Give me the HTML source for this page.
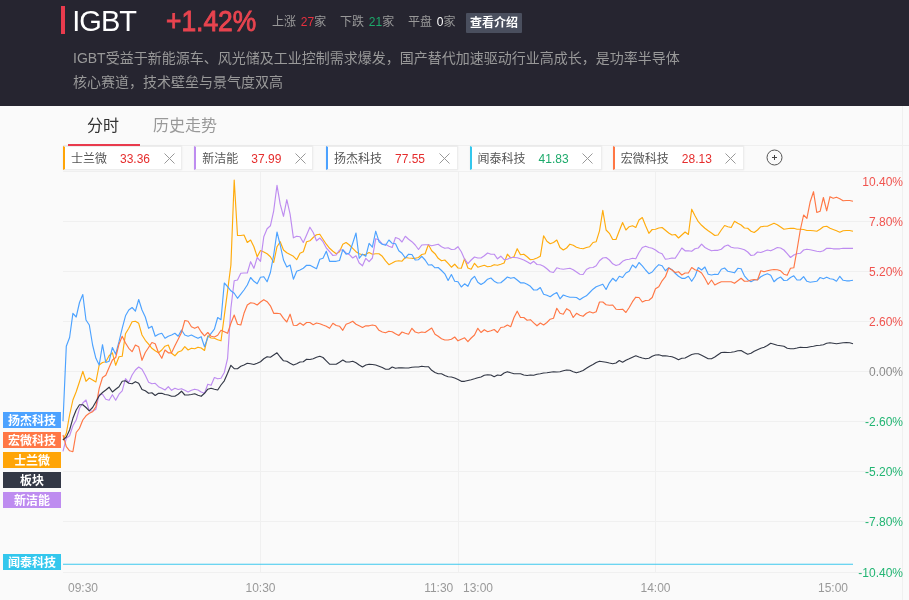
<!DOCTYPE html>
<html lang="zh-CN">
<head>
<meta charset="utf-8">
<title>IGBT</title>
<style>
*{box-sizing:border-box;margin:0;padding:0}
html,body{width:909px;height:600px;overflow:hidden;background:#fafafa;font-family:"Liberation Sans","Noto Sans CJK SC",sans-serif;}
#hd{position:absolute;left:0;top:0;width:909px;height:106px;background:#262530;}
#bar{position:absolute;left:61px;top:6px;width:4px;height:28px;background:#e93b4d;}
#ttl{position:absolute;left:72.3px;top:4px;font-size:29px;line-height:34px;color:#fff;letter-spacing:-1px}
#pct{position:absolute;left:165.5px;top:4px;font-size:29px;line-height:34px;color:#e8444f;-webkit-text-stroke:0.9px #e8444f;transform-origin:0 50%;transform:scaleX(.91)}
.st{position:absolute;top:14px;word-spacing:1.5px;font-size:12px;line-height:16px;color:#999;white-space:nowrap}
.st b{font-weight:normal}
#btn{position:absolute;left:466px;top:13px;width:56px;height:20px;background:#4a4f5e;color:#fff;font-size:12px;font-weight:bold;line-height:21px;text-align:center;border-radius:1px}
.ds{position:absolute;left:73px;font-size:14px;line-height:20px;color:#999;white-space:nowrap}
.tab{position:absolute;top:115px;font-size:16px;line-height:22px;white-space:nowrap}
#ul{position:absolute;z-index:3;left:68px;top:144px;width:72px;height:2px;background:#e93b4d}
.lg{position:absolute;top:146px;height:24px;background:#fff;border:1px solid #ededed;border-left:2px solid;font-size:12px;line-height:24.5px;color:#555;white-space:nowrap;box-shadow:0 0 2px rgba(0,0,0,.07)}
.lg span{position:absolute;top:0}
.lg svg{position:absolute;top:6px}
.yl{position:absolute;right:6px;font-size:12px;line-height:14px;text-align:right}
.xl{position:absolute;top:581px;font-size:12px;line-height:14px;color:#999}
.tg{position:absolute;left:3px;width:58px;height:16px;color:#fff;font-size:12px;font-weight:bold;line-height:18.6px;text-align:center;overflow:hidden}
#ch{position:absolute;left:0;top:0}
</style>
</head>
<body>
<div id="hd">
<div id="bar"></div>
<div id="ttl">IGBT</div>
<div id="pct">+1.42%</div>
<div class="st" style="left:272px">上涨 <b style="color:#e8303f">27</b>家</div>
<div class="st" style="left:340px">下跌 <b style="color:#1daa6b">21</b>家</div>
<div class="st" style="left:408px">平盘 <b style="color:#fff">0</b>家</div>
<div id="btn">查看介绍</div>
<div class="ds" style="top:48px">IGBT受益于新能源车、风光储及工业控制需求爆发，国产替代加速驱动行业高成长，是功率半导体</div>
<div class="ds" style="top:72px">核心赛道，技术壁垒与景气度双高</div>
</div>
<div class="tab" style="left:87px;color:#333">分时</div>
<div class="tab" style="left:153px;color:#999">历史走势</div>
<div id="ul"></div>
<svg id="ch" width="909" height="600" viewBox="0 0 909 600">
<g stroke="#f0f0f0" stroke-width="1" shape-rendering="crispEdges"><line x1="63" y1="171.5" x2="903" y2="171.5"/><line x1="63" y1="221.5" x2="903" y2="221.5"/><line x1="63" y1="271.5" x2="903" y2="271.5"/><line x1="63" y1="321.5" x2="903" y2="321.5"/><line x1="63" y1="371.5" x2="903" y2="371.5"/><line x1="63" y1="421.5" x2="903" y2="421.5"/><line x1="63" y1="471.5" x2="903" y2="471.5"/><line x1="63" y1="521.5" x2="903" y2="521.5"/><line x1="63" y1="572.5" x2="903" y2="572.5"/><line x1="260.5" y1="172" x2="260.5" y2="572"/><line x1="458.5" y1="172" x2="458.5" y2="572"/><line x1="655.5" y1="172" x2="655.5" y2="572"/></g>
<line x1="63" y1="145.5" x2="909" y2="145.5" stroke="#efefef" stroke-width="1" shape-rendering="crispEdges"/>
<line x1="902.5" y1="106" x2="902.5" y2="600" stroke="#f0f0f0" stroke-width="1" shape-rendering="crispEdges"/>
<polyline fill="none" stroke="#ffab0c" stroke-width="1.15" stroke-linejoin="round" points="63.0,440.0 66.3,433.3 69.6,415.0 72.9,400.0 76.2,391.7 79.5,381.7 82.8,371.3 86.0,381.3 89.3,378.0 92.6,380.0 95.9,382.0 99.2,365.0 102.5,362.5 105.8,361.7 109.1,355.8 112.4,352.8 115.7,365.3 119.0,356.7 122.2,356.3 125.5,333.7 128.8,328.3 132.1,321.7 135.4,321.3 138.7,323.3 142.0,335.0 145.3,340.3 148.6,344.2 151.9,348.3 155.2,350.8 158.5,352.8 161.8,350.0 165.0,346.2 168.3,345.0 171.6,353.3 174.9,355.8 178.2,352.0 181.5,350.8 184.8,346.7 188.1,350.0 191.4,348.3 194.7,348.7 198.0,347.2 201.2,348.0 204.5,350.5 207.8,335.8 211.1,338.0 214.4,338.3 217.7,339.7 221.0,340.8 224.3,315.8 227.6,290.8 230.9,265.0 234.2,180.0 237.5,235.5 240.8,235.5 244.0,235.0 247.3,242.5 250.6,240.0 253.9,246.7 257.2,256.7 260.5,250.5 263.8,252.0 267.1,253.8 270.4,256.7 273.7,262.5 277.0,246.7 280.2,241.7 283.5,250.0 286.8,252.8 290.1,254.5 293.4,256.3 296.7,259.7 300.0,253.3 303.3,251.7 306.6,241.7 309.9,240.8 313.2,237.5 316.5,234.7 319.8,234.2 323.0,239.2 326.3,244.2 329.6,248.3 332.9,251.2 336.2,253.8 339.5,251.7 342.8,244.2 346.1,242.5 349.4,245.0 352.7,248.3 356.0,251.7 359.2,253.7 362.5,254.7 365.8,254.2 369.1,252.5 372.4,254.2 375.7,253.7 379.0,253.7 382.3,256.3 385.6,260.8 388.9,264.7 392.2,263.0 395.5,261.2 398.8,260.8 402.0,261.2 405.3,257.5 408.6,258.0 411.9,258.3 415.2,258.3 418.5,257.5 421.8,254.5 425.1,253.7 428.4,244.5 431.7,250.8 435.0,253.7 438.2,258.3 441.5,260.8 444.8,260.0 448.1,263.3 451.4,267.2 454.7,264.2 458.0,268.0 461.3,268.3 464.6,258.7 467.9,268.0 471.2,269.2 474.5,263.3 477.8,267.2 481.0,266.3 484.3,265.3 487.6,266.7 490.9,266.3 494.2,264.7 497.5,265.3 500.8,264.2 504.1,263.0 507.4,254.2 510.7,258.0 514.0,256.7 517.2,248.7 520.5,254.7 523.8,254.2 527.1,256.7 530.4,259.7 533.7,259.2 537.0,258.0 540.3,256.3 543.6,235.8 546.9,241.3 550.2,243.7 553.5,242.5 556.8,240.0 560.0,247.5 563.3,250.0 566.6,248.0 569.9,244.2 573.2,245.3 576.5,247.2 579.8,248.3 583.1,248.7 586.4,247.5 589.7,246.7 593.0,242.5 596.2,241.7 599.5,230.8 602.8,210.3 606.1,230.0 609.4,233.3 612.7,239.5 616.0,239.5 619.3,230.8 622.6,222.5 625.9,230.0 629.2,226.7 632.5,225.8 635.8,227.5 639.0,220.0 642.3,217.5 645.6,225.8 648.9,233.3 652.2,229.5 655.5,229.2 658.8,228.0 662.1,227.5 665.4,230.3 668.7,233.0 672.0,235.0 675.2,234.5 678.5,238.0 681.8,235.0 685.1,232.0 688.4,234.5 691.7,209.2 695.0,215.8 698.3,221.7 701.6,225.3 704.9,228.3 708.2,230.8 711.5,233.0 714.8,235.5 718.0,235.0 721.3,230.0 724.6,225.5 727.9,226.7 731.2,227.5 734.5,221.3 737.8,223.3 741.1,225.0 744.4,228.0 747.7,228.3 751.0,231.3 754.2,232.5 757.5,230.0 760.8,226.7 764.1,226.3 767.4,226.2 770.7,224.7 774.0,223.3 777.3,224.7 780.6,227.0 783.9,229.2 787.2,228.7 790.5,228.3 793.8,228.3 797.0,229.2 800.3,229.2 803.6,229.5 806.9,230.5 810.2,230.5 813.5,230.8 816.8,231.2 820.1,229.2 823.4,226.7 826.7,226.3 830.0,228.3 833.2,229.5 836.5,230.8 839.8,232.2 843.1,230.8 846.4,230.5 849.7,230.5 853.0,231.2"/>
<polyline fill="none" stroke="#be8cf0" stroke-width="1.15" stroke-linejoin="round" points="63.0,451.3 66.3,438.3 69.6,435.8 72.9,425.8 76.2,420.0 79.5,408.3 82.8,403.0 86.0,400.0 89.3,410.8 92.6,411.3 95.9,409.2 99.2,394.2 102.5,394.2 105.8,399.2 109.1,400.3 112.4,394.7 115.7,400.3 119.0,394.2 122.2,390.8 125.5,378.7 128.8,382.5 132.1,375.0 135.4,370.0 138.7,367.0 142.0,369.2 145.3,375.3 148.6,382.2 151.9,383.7 155.2,383.3 158.5,386.7 161.8,388.3 165.0,390.0 168.3,386.7 171.6,390.3 174.9,388.3 178.2,389.5 181.5,388.7 184.8,390.3 188.1,392.0 191.4,390.3 194.7,389.2 198.0,390.0 201.2,392.0 204.5,393.3 207.8,384.2 211.1,385.3 214.4,377.5 217.7,378.8 221.0,378.3 224.3,372.5 227.6,358.3 230.9,308.3 234.2,280.8 237.5,280.0 240.8,273.3 244.0,273.0 247.3,273.0 250.6,261.7 253.9,268.3 257.2,257.5 260.5,261.3 263.8,236.7 267.1,228.7 270.4,225.8 273.7,210.8 277.0,185.3 280.2,204.2 283.5,216.3 286.8,199.7 290.1,214.2 293.4,237.8 296.7,236.2 300.0,236.7 303.3,242.5 306.6,235.0 309.9,227.2 313.2,232.5 316.5,240.8 319.8,238.0 323.0,241.7 326.3,248.0 329.6,251.7 332.9,255.5 336.2,255.0 339.5,250.0 342.8,250.0 346.1,253.0 349.4,254.7 352.7,258.0 356.0,255.8 359.2,263.0 362.5,265.8 365.8,258.3 369.1,261.7 372.4,258.0 375.7,238.7 379.0,240.0 382.3,244.2 385.6,244.2 388.9,246.2 392.2,247.5 395.5,237.5 398.8,238.7 402.0,242.0 405.3,236.3 408.6,239.2 411.9,241.7 415.2,245.0 418.5,249.5 421.8,245.0 425.1,244.7 428.4,244.7 431.7,245.8 435.0,245.0 438.2,244.2 441.5,246.7 444.8,248.3 448.1,247.8 451.4,249.5 454.7,249.2 458.0,246.7 461.3,251.7 464.6,259.2 467.9,263.7 471.2,260.0 474.5,257.0 477.8,258.0 481.0,258.0 484.3,255.8 487.6,253.0 490.9,254.2 494.2,254.2 497.5,258.8 500.8,256.2 504.1,259.7 507.4,259.2 510.7,257.5 514.0,257.5 517.2,257.8 520.5,258.8 523.8,260.0 527.1,261.7 530.4,263.8 533.7,261.3 537.0,264.5 540.3,264.7 543.6,266.2 546.9,268.8 550.2,271.7 553.5,272.5 556.8,267.8 560.0,268.8 563.3,269.2 566.6,268.7 569.9,268.3 573.2,269.7 576.5,272.0 579.8,274.2 583.1,274.5 586.4,269.5 589.7,267.8 593.0,267.5 596.2,265.8 599.5,260.8 602.8,258.0 606.1,257.5 609.4,260.0 612.7,263.8 616.0,265.5 619.3,264.5 622.6,261.3 625.9,259.7 629.2,259.2 632.5,258.3 635.8,258.8 639.0,252.5 642.3,247.5 645.6,246.2 648.9,247.5 652.2,248.3 655.5,250.0 658.8,252.5 662.1,253.8 665.4,259.2 668.7,258.8 672.0,258.0 675.2,258.3 678.5,253.3 681.8,248.0 685.1,250.8 688.4,250.8 691.7,251.3 695.0,248.7 698.3,248.0 701.6,244.2 704.9,247.5 708.2,249.2 711.5,250.8 714.8,250.3 718.0,250.3 721.3,249.2 724.6,246.2 727.9,245.0 731.2,247.2 734.5,248.0 737.8,248.0 741.1,248.7 744.4,249.7 747.7,252.0 751.0,255.5 754.2,255.0 757.5,252.0 760.8,252.5 764.1,251.3 767.4,250.0 770.7,250.8 774.0,249.2 777.3,247.5 780.6,248.0 783.9,250.0 787.2,253.7 790.5,257.5 793.8,255.0 797.0,253.7 800.3,253.3 803.6,250.0 806.9,249.2 810.2,249.7 813.5,250.5 816.8,251.3 820.1,251.7 823.4,250.8 826.7,248.3 830.0,248.3 833.2,248.8 836.5,248.8 839.8,248.8 843.1,248.3 846.4,248.3 849.7,248.3 853.0,248.3"/>
<polyline fill="none" stroke="#4ca2ff" stroke-width="1.15" stroke-linejoin="round" points="63.0,421.3 66.3,346.3 69.6,337.5 72.9,313.3 76.2,317.0 79.5,302.5 82.8,294.5 86.0,320.0 89.3,325.0 92.6,345.0 95.9,358.3 99.2,365.0 102.5,344.7 105.8,362.5 109.1,361.3 112.4,347.5 115.7,354.2 119.0,341.7 122.2,328.3 125.5,315.8 128.8,310.0 132.1,307.5 135.4,311.2 138.7,299.5 142.0,310.0 145.3,317.0 148.6,328.3 151.9,326.3 155.2,336.2 158.5,334.2 161.8,333.3 165.0,338.3 168.3,336.2 171.6,335.0 174.9,333.3 178.2,336.2 181.5,330.0 184.8,335.0 188.1,336.2 191.4,335.0 194.7,336.7 198.0,338.3 201.2,336.7 204.5,346.7 207.8,337.5 211.1,333.3 214.4,329.2 217.7,317.5 221.0,319.7 224.3,283.0 227.6,286.7 230.9,290.8 234.2,293.3 237.5,298.3 240.8,294.2 244.0,290.0 247.3,285.0 250.6,277.5 253.9,281.3 257.2,283.7 260.5,277.2 263.8,276.7 267.1,281.7 270.4,272.5 273.7,255.0 277.0,232.0 280.2,245.0 283.5,260.0 286.8,267.0 290.1,265.0 293.4,279.2 296.7,271.3 300.0,270.0 303.3,268.3 306.6,265.3 309.9,265.3 313.2,267.0 316.5,268.7 319.8,259.2 323.0,258.3 326.3,251.2 329.6,261.3 332.9,261.3 336.2,261.3 339.5,260.5 342.8,249.7 346.1,254.2 349.4,253.0 352.7,243.3 356.0,233.0 359.2,258.3 362.5,254.2 365.8,256.3 369.1,243.3 372.4,247.2 375.7,231.2 379.0,241.7 382.3,244.2 385.6,245.3 388.9,240.0 392.2,243.3 395.5,243.7 398.8,250.8 402.0,253.3 405.3,258.0 408.6,254.2 411.9,254.5 415.2,260.0 418.5,259.7 421.8,256.3 425.1,260.0 428.4,265.0 431.7,264.7 435.0,267.8 438.2,267.5 441.5,270.5 444.8,273.8 448.1,280.5 451.4,274.5 454.7,281.2 458.0,281.7 461.3,287.0 464.6,283.8 467.9,286.3 471.2,279.5 474.5,276.3 477.8,282.2 481.0,284.5 484.3,282.5 487.6,279.2 490.9,278.0 494.2,281.2 497.5,283.0 500.8,282.8 504.1,280.0 507.4,277.0 510.7,278.3 514.0,277.5 517.2,280.0 520.5,282.8 523.8,282.8 527.1,284.2 530.4,286.3 533.7,290.0 537.0,290.0 540.3,287.5 543.6,294.2 546.9,295.3 550.2,296.7 553.5,294.2 556.8,292.5 560.0,298.8 563.3,295.0 566.6,296.3 569.9,297.2 573.2,297.2 576.5,297.5 579.8,299.7 583.1,297.5 586.4,295.8 589.7,292.5 593.0,289.2 596.2,286.7 599.5,285.5 602.8,284.2 606.1,289.5 609.4,282.8 612.7,278.3 616.0,281.2 619.3,276.3 622.6,277.5 625.9,273.0 629.2,271.3 632.5,265.0 635.8,267.8 639.0,262.5 642.3,265.8 645.6,270.0 648.9,273.7 652.2,272.0 655.5,267.8 658.8,264.7 662.1,265.8 665.4,270.8 668.7,267.8 672.0,269.7 675.2,273.3 678.5,276.3 681.8,278.3 685.1,278.3 688.4,276.3 691.7,281.3 695.0,276.2 698.3,267.5 701.6,270.0 704.9,267.0 708.2,274.2 711.5,275.0 714.8,274.2 718.0,274.5 721.3,269.2 724.6,268.0 727.9,271.3 731.2,272.0 734.5,272.8 737.8,268.3 741.1,268.7 744.4,275.8 747.7,279.7 751.0,281.7 754.2,280.0 757.5,279.7 760.8,276.7 764.1,275.0 767.4,273.8 770.7,275.3 774.0,281.7 777.3,278.7 780.6,277.0 783.9,280.5 787.2,280.3 790.5,277.5 793.8,275.8 797.0,280.0 800.3,280.0 803.6,276.7 806.9,281.3 810.2,282.2 813.5,281.7 816.8,281.3 820.1,277.5 823.4,278.7 826.7,277.2 830.0,278.7 833.2,279.2 836.5,281.2 839.8,276.3 843.1,280.3 846.4,280.8 849.7,280.8 853.0,280.3"/>
<polyline fill="none" stroke="#ff7745" stroke-width="1.15" stroke-linejoin="round" points="63.0,435.0 66.3,446.7 69.6,450.8 72.9,451.7 76.2,432.5 79.5,428.3 82.8,420.0 86.0,415.8 89.3,413.3 92.6,411.7 95.9,406.7 99.2,388.3 102.5,377.5 105.8,375.3 109.1,367.5 112.4,360.0 115.7,357.5 119.0,344.2 122.2,336.3 125.5,343.0 128.8,348.3 132.1,351.7 135.4,345.0 138.7,346.7 142.0,360.3 145.3,352.5 148.6,347.5 151.9,342.5 155.2,343.7 158.5,352.8 161.8,358.3 165.0,350.0 168.3,352.8 171.6,352.8 174.9,345.8 178.2,339.2 181.5,332.5 184.8,320.5 188.1,321.3 191.4,326.7 194.7,328.3 198.0,326.7 201.2,332.0 204.5,335.8 207.8,332.5 211.1,336.3 214.4,337.0 217.7,335.3 221.0,330.3 224.3,331.7 227.6,333.3 230.9,323.3 234.2,315.0 237.5,324.2 240.8,325.0 244.0,313.3 247.3,305.0 250.6,302.8 253.9,303.3 257.2,305.0 260.5,302.0 263.8,299.7 267.1,301.7 270.4,305.8 273.7,313.3 277.0,313.3 280.2,313.7 283.5,318.3 286.8,322.0 290.1,314.2 293.4,325.3 296.7,325.5 300.0,323.0 303.3,325.3 306.6,322.5 309.9,322.5 313.2,324.7 316.5,323.0 319.8,323.7 323.0,325.0 326.3,326.2 329.6,328.3 332.9,323.3 336.2,325.5 339.5,326.2 342.8,330.3 346.1,324.2 349.4,323.0 352.7,321.3 356.0,324.2 359.2,325.8 362.5,327.5 365.8,325.8 369.1,325.8 372.4,325.0 375.7,325.8 379.0,330.3 382.3,332.0 385.6,332.8 388.9,331.2 392.2,331.7 395.5,333.7 398.8,335.5 402.0,332.0 405.3,333.3 408.6,334.2 411.9,328.3 415.2,332.0 418.5,333.0 421.8,332.0 425.1,332.5 428.4,330.3 431.7,328.0 435.0,334.2 438.2,336.3 441.5,338.7 444.8,340.0 448.1,340.0 451.4,339.2 454.7,337.0 458.0,340.8 461.3,339.2 464.6,337.8 467.9,341.7 471.2,338.0 474.5,335.0 477.8,328.3 481.0,332.5 484.3,329.7 487.6,331.7 490.9,330.8 494.2,329.5 497.5,332.5 500.8,327.5 504.1,327.0 507.4,325.0 510.7,326.7 514.0,317.5 517.2,311.2 520.5,317.5 523.8,317.5 527.1,320.3 530.4,319.7 533.7,322.8 537.0,325.8 540.3,323.0 543.6,325.0 546.9,322.5 550.2,319.2 553.5,318.3 556.8,308.3 560.0,313.3 563.3,314.2 566.6,308.7 569.9,310.8 573.2,317.5 576.5,313.3 579.8,315.3 583.1,316.3 586.4,313.3 589.7,311.7 593.0,313.0 596.2,311.7 599.5,302.0 602.8,302.0 606.1,304.7 609.4,305.3 612.7,305.0 616.0,309.2 619.3,309.5 622.6,309.2 625.9,312.5 629.2,307.5 632.5,301.7 635.8,297.2 639.0,297.5 642.3,302.0 645.6,300.5 648.9,300.3 652.2,297.5 655.5,288.7 658.8,286.7 662.1,280.8 665.4,276.7 668.7,268.0 672.0,270.0 675.2,272.5 678.5,271.7 681.8,275.0 685.1,273.0 688.4,273.0 691.7,267.5 695.0,269.7 698.3,270.8 701.6,273.0 704.9,278.3 708.2,284.5 711.5,280.0 714.8,285.0 718.0,283.3 721.3,281.7 724.6,281.7 727.9,281.7 731.2,281.7 734.5,283.3 737.8,280.8 741.1,278.3 744.4,281.3 747.7,281.2 751.0,280.0 754.2,279.5 757.5,280.0 760.8,270.8 764.1,271.7 767.4,270.8 770.7,270.0 774.0,269.5 777.3,269.7 780.6,270.8 783.9,274.2 787.2,275.3 790.5,268.3 793.8,267.8 797.0,250.0 800.3,230.0 803.6,215.0 806.9,218.3 810.2,201.7 813.5,191.7 816.8,212.5 820.1,211.3 823.4,197.5 826.7,210.8 830.0,196.7 833.2,198.3 836.5,197.2 839.8,198.8 843.1,200.8 846.4,200.5 849.7,200.5 853.0,201.3"/>
<polyline fill="none" stroke="#333846" stroke-width="1.15" stroke-linejoin="round" points="63.0,440.0 66.3,437.0 69.6,430.0 72.9,418.3 76.2,410.0 79.5,404.7 82.8,404.7 86.0,407.5 89.3,410.8 92.6,407.5 95.9,401.7 99.2,395.8 102.5,392.5 105.8,390.0 109.1,387.2 112.4,392.0 115.7,389.2 119.0,386.7 122.2,381.3 125.5,380.8 128.8,383.3 132.1,383.7 135.4,381.7 138.7,383.3 142.0,389.5 145.3,390.8 148.6,393.3 151.9,392.8 155.2,395.5 158.5,393.3 161.8,393.3 165.0,394.5 168.3,395.0 171.6,396.2 174.9,396.2 178.2,394.2 181.5,391.2 184.8,395.0 188.1,395.0 191.4,394.5 194.7,393.8 198.0,395.3 201.2,396.3 204.5,393.3 207.8,389.2 211.1,388.3 214.4,389.2 217.7,390.0 221.0,385.0 224.3,380.8 227.6,373.3 230.9,365.3 234.2,368.7 237.5,368.7 240.8,366.3 244.0,365.0 247.3,363.3 250.6,363.7 253.9,364.5 257.2,363.3 260.5,361.7 263.8,358.8 267.1,356.7 270.4,357.2 273.7,355.0 277.0,352.8 280.2,357.0 283.5,360.8 286.8,361.2 290.1,363.3 293.4,365.0 296.7,363.7 300.0,362.0 303.3,361.7 306.6,359.2 309.9,359.5 313.2,358.7 316.5,357.2 319.8,356.3 323.0,357.5 326.3,360.8 329.6,364.2 332.9,364.2 336.2,364.2 339.5,362.2 342.8,360.0 346.1,362.0 349.4,362.0 352.7,361.3 356.0,362.8 359.2,365.0 362.5,367.0 365.8,365.0 369.1,364.2 372.4,364.5 375.7,365.0 379.0,366.2 382.3,367.5 385.6,369.2 388.9,369.2 392.2,367.0 395.5,368.3 398.8,367.8 402.0,367.8 405.3,368.0 408.6,368.0 411.9,367.2 415.2,367.0 418.5,367.0 421.8,366.2 425.1,366.7 428.4,366.7 431.7,370.3 435.0,372.5 438.2,373.7 441.5,373.7 444.8,375.5 448.1,376.7 451.4,377.0 454.7,378.0 458.0,379.5 461.3,381.3 464.6,381.3 467.9,380.5 471.2,379.7 474.5,378.8 477.8,377.8 481.0,377.0 484.3,375.3 487.6,374.7 490.9,375.0 494.2,376.7 497.5,375.0 500.8,375.5 504.1,373.0 507.4,371.7 510.7,372.8 514.0,373.7 517.2,373.7 520.5,373.8 523.8,375.0 527.1,375.5 530.4,375.0 533.7,375.3 537.0,374.2 540.3,373.7 543.6,373.0 546.9,372.8 550.2,372.2 553.5,371.7 556.8,372.0 560.0,371.7 563.3,370.8 566.6,370.0 569.9,370.3 573.2,371.7 576.5,372.8 579.8,371.7 583.1,370.5 586.4,368.3 589.7,366.3 593.0,364.5 596.2,362.5 599.5,361.2 602.8,361.7 606.1,362.2 609.4,363.0 612.7,363.7 616.0,363.0 619.3,360.5 622.6,362.2 625.9,360.3 629.2,358.8 632.5,357.2 635.8,355.8 639.0,357.0 642.3,358.0 645.6,358.8 648.9,358.3 652.2,356.3 655.5,355.0 658.8,354.7 662.1,355.8 665.4,355.8 668.7,356.3 672.0,356.7 675.2,358.0 678.5,359.7 681.8,358.3 685.1,358.0 688.4,356.2 691.7,354.5 695.0,353.7 698.3,353.7 701.6,355.3 704.9,357.0 708.2,358.7 711.5,358.8 714.8,357.0 718.0,354.7 721.3,352.5 724.6,352.2 727.9,352.5 731.2,352.2 734.5,351.7 737.8,350.8 741.1,350.5 744.4,352.5 747.7,354.2 751.0,353.3 754.2,351.3 757.5,349.7 760.8,348.3 764.1,347.2 767.4,345.5 770.7,343.3 774.0,344.2 777.3,345.3 780.6,345.8 783.9,346.3 787.2,348.3 790.5,348.8 793.8,348.7 797.0,348.0 800.3,347.2 803.6,347.5 806.9,347.5 810.2,346.7 813.5,346.2 816.8,345.5 820.1,345.3 823.4,344.7 826.7,343.3 830.0,342.8 833.2,343.3 836.5,343.8 839.8,343.3 843.1,342.8 846.4,342.5 849.7,342.8 853.0,343.8"/>
<line x1="63" y1="564.2" x2="853" y2="564.2" stroke="#3cc8ee" stroke-width="1.1"/>
</svg>
<div class="lg" style="left:63px;width:118.5px;border-left-color:#ffa508"><span style="left:6px">士兰微</span><span style="left:55px;color:#e52d2d">33.36</span><svg style="left:98.5px" width="11" height="11" viewBox="0 0 11 11"><path d="M0.5 0.5L10.5 10.5M10.5 0.5L0.5 10.5" stroke="#999" stroke-width="1" fill="none"/></svg></div>
<div class="lg" style="left:194.3px;width:119px;border-left-color:#be8cf0"><span style="left:6px">新洁能</span><span style="left:55px;color:#e52d2d">37.99</span><svg style="left:98.5px" width="11" height="11" viewBox="0 0 11 11"><path d="M0.5 0.5L10.5 10.5M10.5 0.5L0.5 10.5" stroke="#999" stroke-width="1" fill="none"/></svg></div>
<div class="lg" style="left:326px;width:132px;border-left-color:#4ca2ff"><span style="left:6px">扬杰科技</span><span style="left:67px;color:#e52d2d">77.55</span><svg style="left:110.5px" width="11" height="11" viewBox="0 0 11 11"><path d="M0.5 0.5L10.5 10.5M10.5 0.5L0.5 10.5" stroke="#999" stroke-width="1" fill="none"/></svg></div>
<div class="lg" style="left:469.6px;width:132px;border-left-color:#33c7ed"><span style="left:6px">闻泰科技</span><span style="left:67px;color:#1daa6b">41.83</span><svg style="left:110.5px" width="11" height="11" viewBox="0 0 11 11"><path d="M0.5 0.5L10.5 10.5M10.5 0.5L0.5 10.5" stroke="#999" stroke-width="1" fill="none"/></svg></div>
<div class="lg" style="left:612.8px;width:131.5px;border-left-color:#ff7745"><span style="left:6px">宏微科技</span><span style="left:67px;color:#e52d2d">28.13</span><svg style="left:110.5px" width="11" height="11" viewBox="0 0 11 11"><path d="M0.5 0.5L10.5 10.5M10.5 0.5L0.5 10.5" stroke="#999" stroke-width="1" fill="none"/></svg></div>
<svg style="position:absolute;left:766px;top:149px" width="17" height="17" viewBox="0 0 17 17"><circle cx="8.5" cy="8.5" r="7.5" fill="none" stroke="#555" stroke-width="1"/><path d="M6 8.5H11M8.5 6V11" stroke="#444" stroke-width="1" fill="none"/></svg>
<div class="yl" style="top:174.5px;color:#f0544f">10.40%</div>
<div class="yl" style="top:214.5px;color:#f0544f">7.80%</div>
<div class="yl" style="top:264.5px;color:#f0544f">5.20%</div>
<div class="yl" style="top:314.5px;color:#f0544f">2.60%</div>
<div class="yl" style="top:364.5px;color:#8a8a8a">0.00%</div>
<div class="yl" style="top:414.5px;color:#22b573">-2.60%</div>
<div class="yl" style="top:464.5px;color:#22b573">-5.20%</div>
<div class="yl" style="top:514.5px;color:#22b573">-7.80%</div>
<div class="yl" style="top:565.5px;color:#22b573">-10.40%</div>
<div class="xl" style="left:68px">09:30</div>
<div class="xl" style="left:230.5px;width:60px;text-align:center">10:30</div>
<div class="xl" style="left:393.3px;width:60px;text-align:right">11:30</div>
<div class="xl" style="left:463px">13:00</div>
<div class="xl" style="left:625.5px;width:60px;text-align:center">14:00</div>
<div class="xl" style="left:788px;width:60px;text-align:right">15:00</div>
<div class="tg" style="top:412px;background:#4ca2ff">扬杰科技</div>
<div class="tg" style="top:432px;background:#ff7745">宏微科技</div>
<div class="tg" style="top:452px;background:#ffa508">士兰微</div>
<div class="tg" style="top:472px;background:#333846">板块</div>
<div class="tg" style="top:492px;background:#be8cf0">新洁能</div>
<div class="tg" style="top:554px;background:#33c7ed">闻泰科技</div>
</body>
</html>
